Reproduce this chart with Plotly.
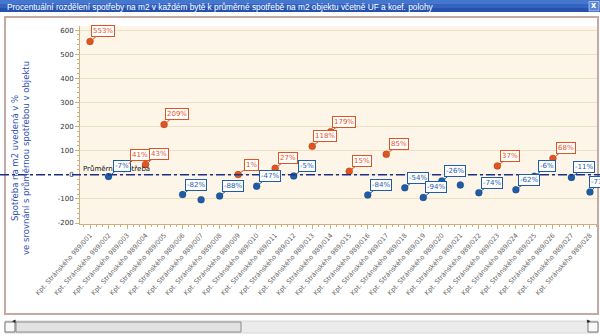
import plotly.graph_objects as go

# ---------------- data ----------------
flats = [
    "Kpt. Stránského 989/001", "Kpt. Stránského 989/002", "Kpt. Stránského 989/003",
    "Kpt. Stránského 989/004", "Kpt. Stránského 989/005", "Kpt. Stránského 989/006",
    "Kpt. Stránského 989/007", "Kpt. Stránského 989/008", "Kpt. Stránského 989/009",
    "Kpt. Stránského 989/010", "Kpt. Stránského 989/011", "Kpt. Stránského 989/012",
    "Kpt. Stránského 989/013", "Kpt. Stránského 989/014", "Kpt. Stránského 989/015",
    "Kpt. Stránského 989/016", "Kpt. Stránského 989/017", "Kpt. Stránského 989/018",
    "Kpt. Stránského 989/019", "Kpt. Stránského 989/020", "Kpt. Stránského 989/021",
    "Kpt. Stránského 989/022", "Kpt. Stránského 989/023", "Kpt. Stránského 989/024",
    "Kpt. Stránského 989/025", "Kpt. Stránského 989/026", "Kpt. Stránského 989/027",
    "Kpt. Stránského 989/028",
]
percent = [553, -7, 41, 43, 209, -82, -103, -88, 1, -47, 27, -5, 118, 179,
           15, -84, 85, -54, -94, -26, -42, -74, 37, -62, -6, 68, -11, -71]
label_shown = [1, 1, 1, 1, 1, 1, 0, 1, 1, 1, 1, 1, 1, 1,
               1, 1, 1, 1, 1, 1, 0, 1, 1, 1, 1, 1, 1, 1]
average_value = 0
average_label = "Průměrná spotřeba"
y_ticks = [-200, -100, 0, 100, 200, 300, 400, 500, 600]
y_tick_labels = ["-200", "-100", "0", "100", "200", "300", "400", "500", "600"]

title_text = ("Procentuální rozdělení spotřeby na m2 v každém bytě k průměrné "
              "spotřebě na m2 objektu včetně UF a koef. polohy")
y_title = "Spotřeba na m2 uvedená v %<br>ve srovnání s průměrnou spotřebou v objektu"

# ---------------- styles ----------------
W, H = 600, 335
POS = "#E2541F"
NEG = "#1F5CA8"
FONT = "DejaVu Sans"
AXIS_COL = "#CFB07C"

def px_x(p):
    return p / W

def px_y(p):
    return (H - p) / H

x_idx = list(range(len(flats)))
colors = [POS if v >= 0 else NEG for v in percent]

fig = go.Figure()
fig.add_trace(go.Scatter(
    x=x_idx, y=percent, mode="markers",
    marker=dict(size=7, color=colors, line=dict(width=0.6, color="rgba(0,0,0,0.25)")),
    hoverinfo="skip", cliponaxis=False,
))

annotations = []
# average line label
annotations.append(dict(
    x=px_x(81), y=average_value, xref="paper", yref="y", yshift=6,
    text=average_label, showarrow=False, xanchor="left", yanchor="middle",
    font=dict(family=FONT, size=7, color="#111111"),
))
for i, (v, s) in enumerate(zip(percent, label_shown)):
    if not s:
        continue
    c = POS if v >= 0 else NEG
    annotations.append(dict(
        x=i, y=v, xref="x", yref="y", text=f"{v}%",
        showarrow=True, arrowhead=0, arrowwidth=1, arrowcolor=c,
        ax=13, ay=-10, standoff=2,
        bgcolor="white", bordercolor=c, borderwidth=1, borderpad=1,
        font=dict(family=FONT, size=7, color=c),
    ))

# y axis title
annotations.append(dict(
    x=px_x(20), y=px_y(158), xref="paper", yref="paper",
    text=y_title, showarrow=False, textangle=-90,
    xanchor="center", yanchor="middle",
    font=dict(family=FONT, size=8.5, color="#3050B0"),
))
# window title
annotations.append(dict(
    x=px_x(5), y=px_y(6.5), xref="paper", yref="paper",
    text=title_text, showarrow=False, xanchor="left", yanchor="middle",
    font=dict(family="Liberation Sans", size=8.3, color="white"),
))
annotations.append(dict(
    x=px_x(594), y=px_y(6), xref="paper", yref="paper",
    text="<b>x</b>", showarrow=False, xanchor="center", yanchor="middle",
    font=dict(family=FONT, size=8, color="white"),
))
# scrollbar arrows
annotations.append(dict(
    x=px_x(10), y=px_y(327), xref="paper", yref="paper", text="◂",
    showarrow=False, font=dict(size=7, color="#222"),
))
annotations.append(dict(
    x=px_x(593), y=px_y(327), xref="paper", yref="paper", text="▸",
    showarrow=False, font=dict(size=7, color="#222"),
))

shapes = [
    # title bar gradient bands
    dict(type="rect", xref="paper", yref="paper", x0=0, x1=1, y0=px_y(4), y1=px_y(0),
         fillcolor="#4677CF", line_width=0, layer="below"),
    dict(type="rect", xref="paper", yref="paper", x0=0, x1=1, y0=px_y(8), y1=px_y(4),
         fillcolor="#3464C0", line_width=0, layer="below"),
    dict(type="rect", xref="paper", yref="paper", x0=0, x1=1, y0=px_y(12), y1=px_y(8),
         fillcolor="#2452AE", line_width=0, layer="below"),
    # close button
    dict(type="rect", xref="paper", yref="paper", x0=px_x(589), x1=px_x(599),
         y0=px_y(11), y1=px_y(1.5), fillcolor="#5A86D6", line=dict(color="#DDE6F5", width=0.6),
         layer="below"),
    # panel border
    dict(type="rect", xref="paper", yref="paper", x0=px_x(5), x1=px_x(598),
         y0=px_y(314), y1=px_y(17), fillcolor="rgba(0,0,0,0)",
         line=dict(color="#C4AAA2", width=2), layer="below"),
    # scrollbar track
    dict(type="rect", xref="paper", yref="paper", x0=px_x(5), x1=px_x(598),
         y0=px_y(333), y1=px_y(321), fillcolor="#EBEBEB",
         line=dict(color="#D6D6D6", width=1), layer="below"),
    # scrollbar thumb
    dict(type="rect", xref="paper", yref="paper", x0=px_x(16), x1=px_x(241),
         y0=px_y(332), y1=px_y(322), fillcolor="#E2E2E2",
         line=dict(color="#8A8A8A", width=1), layer="below"),
    # left / right buttons
    dict(type="rect", xref="paper", yref="paper", x0=px_x(5), x1=px_x(15),
         y0=px_y(332), y1=px_y(322), fillcolor="#F8F8F8",
         line=dict(color="#777777", width=1), layer="below"),
    dict(type="rect", xref="paper", yref="paper", x0=px_x(588), x1=px_x(598),
         y0=px_y(332), y1=px_y(322), fillcolor="#F8F8F8",
         line=dict(color="#777777", width=1), layer="below"),
    # average constant line
    dict(type="line", xref="paper", yref="y", x0=0, x1=1, y0=average_value, y1=average_value,
         line=dict(color="#1E2E86", width=1.6, dash="dashdot"), layer="above"),
]

fig.update_layout(
    width=W, height=H,
    margin=dict(l=0, r=0, t=0, b=0, autoexpand=False),
    paper_bgcolor="white",
    plot_bgcolor="#FDF6E8",
    showlegend=False,
    annotations=annotations,
    shapes=shapes,
    xaxis=dict(
        domain=[px_x(80), px_x(597)],
        range=[-0.54, 27.38],
        tickmode="array", tickvals=x_idx, ticktext=flats,
        tickangle=-48,
        tickfont=dict(family=FONT, size=6.5, color="#666666"),
        showgrid=False, zeroline=False,
        showline=True, linecolor=AXIS_COL, linewidth=1,
        ticks="outside", ticklen=4, tickcolor=AXIS_COL,
        minor=dict(dtick=1 / 3, tick0=0, ticks="outside", ticklen=2, tickcolor=AXIS_COL),
        automargin=False, fixedrange=True,
    ),
    yaxis=dict(
        domain=[px_y(224), px_y(26)],
        range=[-204, 617],
        tickmode="array", tickvals=y_ticks, ticktext=y_tick_labels,
        tickfont=dict(family=FONT, size=7, color="#333333"),
        showgrid=True, gridcolor="#EEE0C6", gridwidth=1,
        zeroline=False,
        showline=True, linecolor=AXIS_COL, linewidth=1,
        ticks="outside", ticklen=4, tickcolor=AXIS_COL,
        minor=dict(dtick=20, tick0=0, ticks="outside", ticklen=2, tickcolor=AXIS_COL, showgrid=False),
        automargin=False, fixedrange=True,
    ),
)

fig.write_html("out.html")
